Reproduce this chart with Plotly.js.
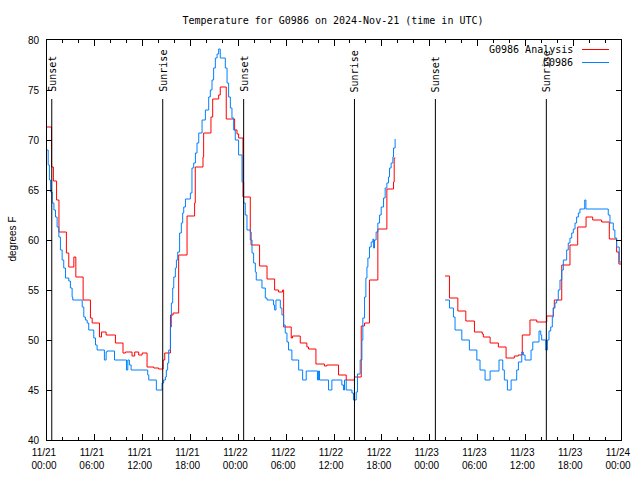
<!DOCTYPE html>
<html>
<head>
<meta charset="utf-8">
<script src="https://cdn.plot.ly/plotly-3.0.1.min.js"></script>
<style>html,body{margin:0;padding:0;background:#fff;}#chart{width:640px;height:480px;}</style>
</head>
<body>
<div id="chart"></div>
<script>
// ---- Data ----
const analysisTime = [
 '2024-11-21 00:00','2024-11-21 00:34','2024-11-21 00:48','2024-11-21 01:12','2024-11-21 01:30','2024-11-21 02:26','2024-11-21 02:44','2024-11-21 03:22','2024-11-21 03:37','2024-11-21 04:32',
 '2024-11-21 05:27','2024-11-21 05:40','2024-11-21 06:35','2024-11-21 06:50','2024-11-21 07:25','2024-11-21 08:35','2024-11-21 09:32','2024-11-21 09:50','2024-11-21 10:40','2024-11-21 11:00',
 '2024-11-21 11:30','2024-11-21 11:56','2024-11-21 12:33','2024-11-21 13:23','2024-11-21 14:00','2024-11-21 14:34','2024-11-21 14:46','2024-11-21 15:29','2024-11-21 15:49','2024-11-21 16:31',
 '2024-11-21 17:34','2024-11-21 18:31','2024-11-21 18:36','2024-11-21 19:34','2024-11-21 19:39','2024-11-21 20:34','2024-11-21 20:47','2024-11-21 21:32','2024-11-21 21:44','2024-11-21 22:29',
 '2024-11-21 23:32','2024-11-21 23:50','2024-11-22 00:02','2024-11-22 00:35','2024-11-22 01:30','2024-11-22 01:36','2024-11-22 02:40','2024-11-22 03:36','2024-11-22 04:33','2024-11-22 05:03',
 '2024-11-22 05:33','2024-11-22 05:41','2024-11-22 06:38','2024-11-22 06:48','2024-11-22 07:46','2024-11-22 08:36','2024-11-22 08:48','2024-11-22 09:44','2024-11-22 10:48','2024-11-22 11:06',
 '2024-11-22 12:34','2024-11-22 13:32','2024-11-22 14:34','2024-11-22 15:25','2024-11-22 15:50','2024-11-22 16:27','2024-11-22 17:30','2024-11-22 18:38','2024-11-22 19:28','2024-11-22 19:33',
 '2024-11-22 19:42','2024-11-22 22:00',
 '2024-11-23 01:56','2024-11-23 02:29','2024-11-23 03:32','2024-11-23 04:32','2024-11-23 05:37','2024-11-23 06:36','2024-11-23 06:44','2024-11-23 07:35','2024-11-23 08:37','2024-11-23 09:35',
 '2024-11-23 10:37','2024-11-23 11:07','2024-11-23 11:37','2024-11-23 12:35','2024-11-23 13:26','2024-11-23 14:41','2024-11-23 15:30','2024-11-23 15:38','2024-11-23 16:34','2024-11-23 17:36',
 '2024-11-23 18:34','2024-11-23 19:37','2024-11-23 20:27','2024-11-23 21:34','2024-11-23 22:32','2024-11-23 23:27','2024-11-23 23:44','2024-11-24 00:00'
];
const analysisTemp = [
 71.3,67.3,65.9,64.0,60.8,58.7,57.3,58.3,56.3,54.0,
 52.2,51.7,50.3,50.8,50.5,49.7,48.7,48.8,48.4,48.8,
 48.5,48.7,47.3,47.2,47.1,48.0,48.7,52.5,52.7,58.5,
 62.4,63.7,67.3,68.3,70.7,72.3,74.1,74.5,75.3,72.1,
 71.0,70.6,70.2,64.3,60.8,59.5,57.4,56.1,55.0,54.8,
 55.0,51.3,50.2,50.4,49.7,49.3,49.1,47.6,47.4,47.5,
 46.5,46.0,46.3,51.4,51.7,56.0,61.1,65.1,65.8,68.2,
 68.2,null,
 56.4,54.2,52.9,51.9,50.8,50.6,50.3,49.7,49.3,48.2,
 48.4,48.5,50.5,52.0,51.8,52.4,53.2,54.0,57.5,59.5,
 61.3,62.3,62.0,61.8,60.1,58.8,57.6,57.6
];

const obsTime = [
 '2024-11-21 00:00','2024-11-21 00:09','2024-11-21 00:18','2024-11-21 00:27','2024-11-21 00:39','2024-11-21 00:52','2024-11-21 01:04','2024-11-21 01:16','2024-11-21 01:29','2024-11-21 01:41',
 '2024-11-21 01:54','2024-11-21 02:06','2024-11-21 02:19','2024-11-21 02:44','2024-11-21 02:56','2024-11-21 03:09','2024-11-21 03:14','2024-11-21 04:25','2024-11-21 04:37','2024-11-21 04:49',
 '2024-11-21 05:02','2024-11-21 05:14','2024-11-21 05:52','2024-11-21 06:05','2024-11-21 06:17','2024-11-21 07:12','2024-11-21 07:25','2024-11-21 07:32','2024-11-21 08:28','2024-11-21 09:58',
 '2024-11-21 10:08','2024-11-21 10:20','2024-11-21 10:33','2024-11-21 12:38','2024-11-21 12:46','2024-11-21 13:43','2024-11-21 14:26','2024-11-21 14:38','2024-11-21 14:51','2024-11-21 14:58',
 '2024-11-21 15:08','2024-11-21 15:16','2024-11-21 15:29','2024-11-21 15:36','2024-11-21 15:46','2024-11-21 15:54','2024-11-21 16:06','2024-11-21 16:14','2024-11-21 16:24','2024-11-21 16:38',
 '2024-11-21 16:51','2024-11-21 17:01','2024-11-21 17:09','2024-11-21 17:22','2024-11-21 17:59','2024-11-21 18:11','2024-11-21 18:24','2024-11-21 18:37','2024-11-21 18:49','2024-11-21 19:02',
 '2024-11-21 19:27','2024-11-21 19:52','2024-11-21 20:17','2024-11-21 20:29','2024-11-21 20:42','2024-11-21 20:54','2024-11-21 21:07','2024-11-21 21:20','2024-11-21 21:32','2024-11-21 21:44',
 '2024-11-21 22:22','2024-11-21 22:35','2024-11-21 22:47','2024-11-21 23:00','2024-11-21 23:12','2024-11-21 23:25','2024-11-21 23:37','2024-11-22 00:02','2024-11-22 00:28','2024-11-22 00:40',
 '2024-11-22 00:52','2024-11-22 01:05','2024-11-22 01:30','2024-11-22 01:43','2024-11-22 01:55','2024-11-22 02:08','2024-11-22 02:15','2024-11-22 02:58','2024-11-22 03:23','2024-11-22 03:36',
 '2024-11-22 04:25','2024-11-22 04:33','2024-11-22 04:43','2024-11-22 05:16','2024-11-22 05:28','2024-11-22 05:41','2024-11-22 05:53','2024-11-22 06:06','2024-11-22 06:18','2024-11-22 06:43',
 '2024-11-22 07:34','2024-11-22 08:04','2024-11-22 08:31','2024-11-22 09:56','2024-11-22 10:04','2024-11-22 10:11','2024-11-22 11:19','2024-11-22 11:44','2024-11-22 12:59','2024-11-22 13:12',
 '2024-11-22 13:19','2024-11-22 13:32','2024-11-22 14:15','2024-11-22 14:27','2024-11-22 14:47','2024-11-22 14:57','2024-11-22 15:17','2024-11-22 15:30','2024-11-22 15:37','2024-11-22 15:50',
 '2024-11-22 16:00','2024-11-22 16:08','2024-11-22 16:15','2024-11-22 16:27','2024-11-22 16:40','2024-11-22 16:53','2024-11-22 16:58','2024-11-22 17:05','2024-11-22 17:17','2024-11-22 17:30',
 '2024-11-22 17:43','2024-11-22 17:55','2024-11-22 18:13','2024-11-22 18:25','2024-11-22 18:38','2024-11-22 18:50','2024-11-22 18:58','2024-11-22 19:10','2024-11-22 19:23','2024-11-22 19:28',
 '2024-11-22 19:40','2024-11-22 22:00',
 '2024-11-23 01:56','2024-11-23 02:29','2024-11-23 02:59','2024-11-23 03:11','2024-11-23 04:02','2024-11-23 04:59','2024-11-23 05:55','2024-11-23 06:19','2024-11-23 06:57','2024-11-23 07:35',
 '2024-11-23 08:42','2024-11-23 09:10','2024-11-23 09:22','2024-11-23 09:45','2024-11-23 10:13','2024-11-23 10:55','2024-11-23 11:08','2024-11-23 11:33','2024-11-23 11:45','2024-11-23 11:58',
 '2024-11-23 12:43','2024-11-23 12:56','2024-11-23 13:43','2024-11-23 13:56','2024-11-23 14:03','2024-11-23 14:34','2024-11-23 14:46','2024-11-23 14:58','2024-11-23 15:11','2024-11-23 15:23',
 '2024-11-23 15:31','2024-11-23 15:43','2024-11-23 15:56','2024-11-23 16:08','2024-11-23 16:21','2024-11-23 16:34','2024-11-23 16:46','2024-11-23 17:11','2024-11-23 17:23','2024-11-23 17:36',
 '2024-11-23 17:49','2024-11-23 18:01','2024-11-23 18:14','2024-11-23 18:26','2024-11-23 18:39','2024-11-23 18:51','2024-11-23 19:27','2024-11-23 19:36','2024-11-23 22:24','2024-11-23 22:37',
 '2024-11-23 23:02','2024-11-23 23:14','2024-11-23 23:27','2024-11-23 23:47','2024-11-24 00:00'
];
const obsTemp = [
 69.0,67.5,66.0,64.8,63.7,63.0,62.3,61.3,60.3,59.0,
 58.0,57.2,56.2,55.9,55.2,54.3,54.0,53.3,52.3,52.0,
 51.7,51.0,50.2,49.5,49.0,48.0,48.8,48.9,48.0,47.0,
 48.0,47.5,47.0,46.5,46.0,45.0,45.7,46.0,46.3,47.0,
 47.7,49.0,51.3,53.7,55.2,56.3,57.2,58.0,58.8,60.7,
 61.7,62.7,63.3,64.1,64.7,67.2,67.7,68.7,69.7,70.7,
 72.0,73.0,74.3,75.0,76.0,77.2,78.2,78.6,79.1,78.2,
 77.2,75.7,74.3,73.2,72.2,71.0,70.0,68.5,65.8,63.7,
 62.5,61.0,60.0,58.7,57.7,56.8,56.0,55.2,54.2,54.0,
 53.5,53.0,54.0,53.2,52.5,51.5,50.7,49.8,49.0,48.0,
 47.0,46.0,46.9,46.0,46.9,46.0,45.0,46.0,45.5,45.0,
 46.0,45.0,44.7,44.0,44.8,46.6,48.0,50.0,52.2,54.3,
 56.2,57.3,58.2,59.3,59.8,60.1,59.2,60.0,60.8,61.7,
 62.5,63.3,64.2,65.2,65.7,66.3,67.2,67.7,68.3,69.2,
 70.1,null,
 54.0,53.2,52.3,51.0,50.0,49.0,48.0,47.0,46.0,46.9,
 48.0,47.0,46.0,45.0,46.0,47.0,47.8,48.8,48.5,48.0,
 49.0,49.8,50.9,50.5,50.0,49.0,50.0,50.9,51.3,52.3,
 53.2,53.7,54.0,55.0,56.0,57.0,58.0,59.0,59.7,60.2,
 60.7,61.1,61.7,62.3,62.7,63.1,64.0,63.1,62.5,61.7,
 61.0,60.2,59.3,57.8,57.8
];

const sunEventTime  = ['2024-11-21 00:36','2024-11-21 14:31','2024-11-22 00:40','2024-11-22 14:34','2024-11-23 00:43','2024-11-23 14:38'];
const sunEventLabel = ['Sunset','Sunrise','Sunset','Sunrise','Sunset','Sunrise'];

const xTickVals = ['2024-11-21 00:00','2024-11-21 06:00','2024-11-21 12:00','2024-11-21 18:00','2024-11-22 00:00','2024-11-22 06:00','2024-11-22 12:00','2024-11-22 18:00','2024-11-23 00:00','2024-11-23 06:00','2024-11-23 12:00','2024-11-23 18:00','2024-11-24 00:00'];
const xTickText = ['11/21<br>00:00','11/21<br>06:00','11/21<br>12:00','11/21<br>18:00','11/22<br>00:00','11/22<br>06:00','11/22<br>12:00','11/22<br>18:00','11/23<br>00:00','11/23<br>06:00','11/23<br>12:00','11/23<br>18:00','11/24<br>00:00'];

const seriesNames = ['G0986 Analysis','G0986'];
const seriesColors = ['#ff0000','#0080ff'];

// ---- Chart ----
const MONO = 'DejaVu Sans Mono, monospace';
const SANS = 'Liberation Sans, Arial, sans-serif';

const traces = [
  {x: analysisTime, y: analysisTemp, type: 'scatter', mode: 'lines', name: seriesNames[0],
   line: {color: seriesColors[0], width: 1, shape: 'hv'}, connectgaps: false, showlegend: false},
  {x: obsTime, y: obsTemp, type: 'scatter', mode: 'lines', name: seriesNames[1],
   line: {color: seriesColors[1], width: 1, shape: 'hv'}, connectgaps: false, showlegend: false}
];

const shapes = [];
const annotations = [];
sunEventTime.forEach((t, i) => {
  shapes.push({type: 'line', xref: 'x', yref: 'y', x0: t, x1: t, y0: 40, y1: 74.1,
               line: {color: '#000', width: 1}, layer: 'above'});
  annotations.push({x: t, y: 74.7, xref: 'x', yref: 'y', text: sunEventLabel[i], textangle: -90,
                    showarrow: false, xanchor: 'center', yanchor: 'bottom',
                    font: {family: MONO, size: 10, color: '#000'}, borderpad: 0});
});

// custom legend (text on left, sample on right, as in reference)
const legendRowsY = [49.5, 62.5];
seriesNames.forEach((n, i) => {
  annotations.push({xref: 'paper', yref: 'paper', x: (574 - 46.5) / 574.5, y: 1 - (legendRowsY[i] - 40) / 400,
                    text: n, showarrow: false, xanchor: 'right', yanchor: 'middle',
                    font: {family: MONO, size: 10, color: '#000'}, borderpad: 0});
  shapes.push({type: 'line', xref: 'paper', yref: 'paper',
               x0: (582 - 46.5) / 574.5, x1: (609 - 46.5) / 574.5,
               y0: 1 - (legendRowsY[i] - 40) / 400, y1: 1 - (legendRowsY[i] - 40) / 400,
               line: {color: seriesColors[i], width: 1}});
});

// y axis title
annotations.push({xref: 'paper', yref: 'paper', x: -(46.5 - 11) / 574.5, y: 1 - (239 - 40) / 400,
                  text: 'degrees F', textangle: -90, showarrow: false, xanchor: 'center', yanchor: 'middle',
                  font: {family: SANS, size: 10, color: '#000'}});

const layout = {
  width: 640, height: 480,
  margin: {l: 47, r: 19, t: 40, b: 40, pad: 0},
  paper_bgcolor: '#fff', plot_bgcolor: '#fff',
  title: {text: 'Temperature for G0986 on 2024-Nov-21 (time in UTC)', x: 333 / 640, xanchor: 'center',
          y: 1 - 20 / 480, yanchor: 'middle', yref: 'container',
          font: {family: MONO, size: 10, color: '#000'}},
  showlegend: false,
  xaxis: {
    type: 'date', range: ['2024-11-21 00:00', '2024-11-24 00:00'],
    tickmode: 'array', tickvals: xTickVals, ticktext: xTickText,
    ticks: 'inside', ticklen: 6, tickwidth: 1, tickcolor: '#000',
    minor: {dtick: 7200000, tick0: '2024-11-21 00:00', ticks: 'inside', ticklen: 3, tickcolor: '#000', showgrid: false},
    showline: true, linecolor: '#000', linewidth: 1, mirror: 'ticks',
    showgrid: false, zeroline: false,
    tickfont: {family: SANS, size: 10, color: '#000'}, ticklabelshift: -3, ticklabelstandoff: 3
  },
  yaxis: {
    range: [40, 80], dtick: 5, tick0: 40,
    ticks: 'inside', ticklen: 5, tickwidth: 1, tickcolor: '#000',
    showline: true, linecolor: '#000', linewidth: 1, mirror: 'ticks',
    showgrid: false, zeroline: false,
    tickfont: {family: SANS, size: 10, color: '#000'}, ticklabelstandoff: 5
  },
  shapes: shapes,
  annotations: annotations
};

Plotly.newPlot('chart', traces, layout, {displayModeBar: false, staticPlot: true});
</script>
</body>
</html>
